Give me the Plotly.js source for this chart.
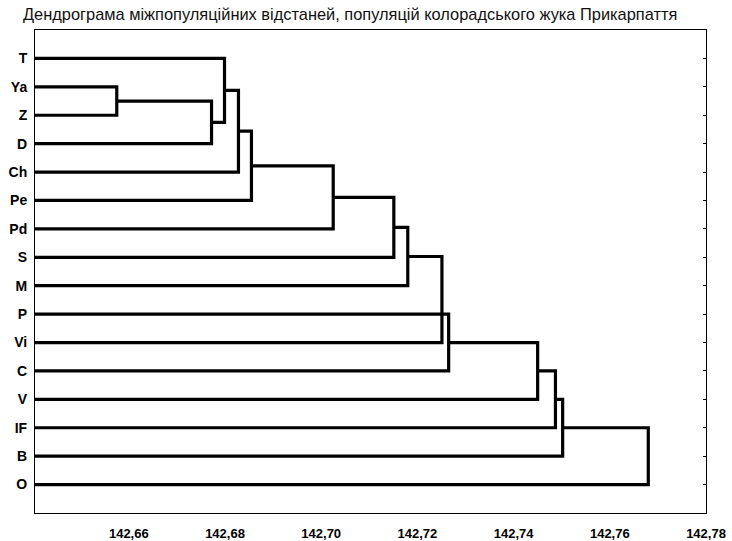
<!DOCTYPE html>
<html>
<head>
<meta charset="utf-8">
<script src="https://cdn.plot.ly/plotly-3.0.1.min.js"></script>
<style>html,body{margin:0;padding:0;background:#fff;}#chart{width:732px;height:541px;}</style>
</head>
<body>
<div id="chart"></div>
<script>
// Leaves, top to bottom
const leaves = ['T','Ya','Z','D','Ch','Pe','Pd','S','M','P','Vi','C','V','IF','B','O'];
// Amalgamation steps: left child, right child, linkage distance ('#k' = result of step k)
const mergeLeft   = ['Ya','#0','T','#2','#3','#4','#5','#6','#7','P','#9','#10','#11','#12'];
const mergeRight  = ['Z','D','#1','Ch','Pe','Pd','S','M','Vi','C','V','IF','B','O'];
const mergeHeight = [142.6575,142.6772,142.6799,142.6828,142.6855,142.7025,142.7151,142.7180,142.7251,142.7265,142.7450,142.7487,142.7502,142.7680];
// Axis ticks
const xTickVals = [142.66,142.68,142.70,142.72,142.74,142.76,142.78];
const xTickText = ['142,66','142,68','142,70','142,72','142,74','142,76','142,78'];
const titleText = 'Дендрограма міжпопуляційних відстаней, популяцій колорадського жука Прикарпаття';

const xMin = 142.6405, xMax = 142.78;

const nodeY = {}, nodeX = {};
leaves.forEach((l,i)=>{ nodeY[l] = i+1; nodeX[l] = xMin; });
const xs = [], ys = [];
mergeHeight.forEach((h,k)=>{
  const a = mergeLeft[k], b = mergeRight[k];
  xs.push(nodeX[a], h, h, nodeX[b], null);
  ys.push(nodeY[a], nodeY[a], nodeY[b], nodeY[b], null);
  nodeY['#'+k] = (nodeY[a]+nodeY[b])/2;
  nodeX['#'+k] = h;
});

const trace = {
  x: xs, y: ys, type: 'scatter', mode: 'lines',
  line: {color: '#000', width: 3.2, shape: 'linear'},
  hoverinfo: 'skip', showlegend: false
};

const layout = {
  width: 732, height: 541,
  margin: {l: 35, r: 26, t: 30, b: 28},
  paper_bgcolor: '#fff', plot_bgcolor: '#fff',
  font: {family: 'Liberation Sans, Arial, sans-serif', color: '#000'},
  title: {
    text: titleText,
    font: {size: 16.4, color: '#111', family: 'Liberation Sans, Arial, sans-serif'},
    x: 23/732, xanchor: 'left', xref: 'container',
    y: 1 - 14/541, yanchor: 'middle', yref: 'container'
  },
  xaxis: {
    range: [xMin, xMax], tickvals: xTickVals, ticktext: xTickText,
    showgrid: false, zeroline: false,
    showline: true, linecolor: '#000', linewidth: 1, mirror: true,
    ticks: '', ticklabelstandoff: 8,
    tickfont: {size: 13, color: '#000', weight: 'bold'}
  },
  yaxis: {
    range: [17, 0], tickvals: leaves.map((l,i)=>i+1), ticktext: leaves,
    showgrid: false, zeroline: false,
    showline: true, linecolor: '#000', linewidth: 1, mirror: 'ticks',
    ticks: 'inside', ticklen: 3, tickcolor: '#000',
    ticklabelstandoff: 4,
    tickfont: {size: 14, color: '#000', weight: 'bold'}
  }
};

Plotly.newPlot('chart', [trace], layout, {staticPlot: true});
</script>
</body>
</html>
